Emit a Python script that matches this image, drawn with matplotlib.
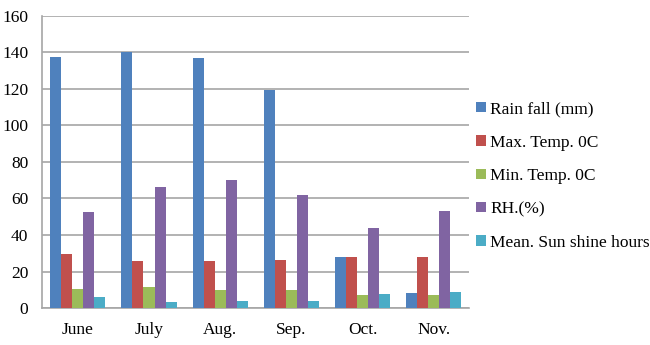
import numpy as np
import matplotlib
matplotlib.use("Agg")
import matplotlib.pyplot as plt
from matplotlib.patches import Patch

# Data
months = ["June", "July", "Aug.", "Sep.", "Oct.", "Nov."]
rain_fall = [137.4, 140.0, 136.5, 119.4, 28.1, 8.4]
max_temp = [29.5, 25.5, 25.5, 26.1, 27.7, 27.9]
min_temp = [10.2, 11.5, 9.8, 10.0, 7.1, 6.9]
rh = [52.7, 66.2, 69.8, 62.0, 43.9, 53.2]
sun_hours = [6.0, 3.1, 4.0, 4.0, 7.8, 8.7]

series = [rain_fall, max_temp, min_temp, rh, sun_hours]
labels = ["Rain fall (mm)", "Max. Temp. 0C", "Min. Temp. 0C", "RH.(%)",
          "Mean. Sun shine hours"]
colors = ["#4F81BD", "#C0504D", "#9BBB59", "#8064A2", "#4BACC6"]

plt.rcParams["font.family"] = ["Liberation Serif", "DejaVu Serif"]

fig = plt.figure(figsize=(6.5, 3.45), dpi=100)
ax = fig.add_axes([0.065, 0.107, 0.657, 0.848])

x = np.arange(len(months))
w = 0.155
for i, (vals, col) in enumerate(zip(series, colors)):
    ax.bar(x + (i - 2) * w, vals, w, color=col, zorder=3)

ax.set_xlim(-0.5, len(months) - 0.5)
ax.set_ylim(0, 160)
ax.set_yticks(range(0, 161, 20))
ax.set_xticks(x)
ax.set_xticklabels(months)
ax.tick_params(axis="both", length=0, labelsize=12.5, colors="black")
ax.tick_params(axis="y", pad=10)
ax.tick_params(axis="x", pad=10)
ax.yaxis.grid(True, color="#A6A6A6", linewidth=1.2, zorder=0)
for s in ["top", "right"]:
    ax.spines[s].set_visible(False)
ax.spines["left"].set_color("#A6A6A6")
ax.spines["bottom"].set_color("#A6A6A6")
ax.spines["left"].set_linewidth(1.2)
ax.spines["bottom"].set_linewidth(1.2)

handles = [Patch(facecolor=c, edgecolor="none") for c in colors]
fig.legend(handles, labels, loc="center left", bbox_to_anchor=(0.722, 0.49),
           frameon=False, fontsize=12.5, handlelength=0.55, handleheight=0.55,
           handletextpad=0.25, labelspacing=1.0, borderaxespad=0)

plt.savefig("out.png", dpi=100)
